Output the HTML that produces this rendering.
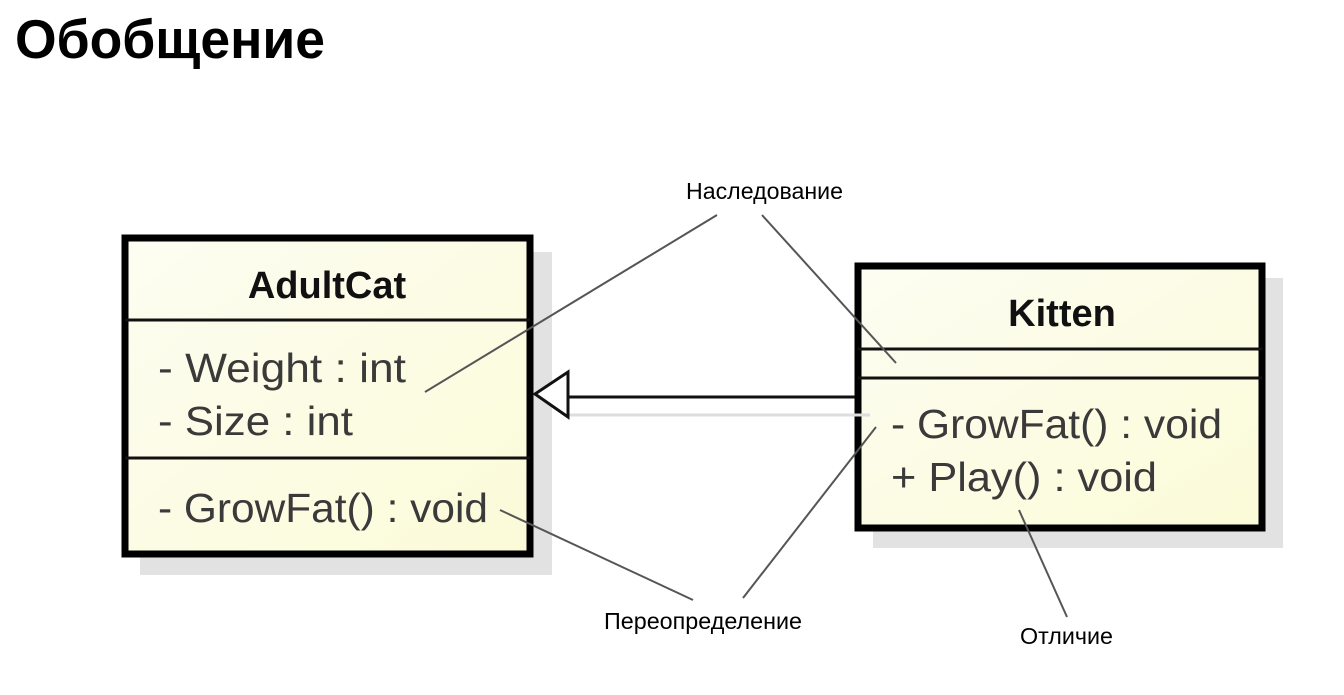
<!DOCTYPE html>
<html><head><meta charset="utf-8"><style>
html,body{margin:0;padding:0;background:#fff;width:1344px;height:695px;overflow:hidden}
</style></head><body>
<svg width="1344" height="695" viewBox="0 0 1344 695" xmlns="http://www.w3.org/2000/svg">
<defs>
<linearGradient id="g" x1="0" y1="0" x2="1" y2="1">
<stop offset="0" stop-color="#fdfdf2"/><stop offset="1" stop-color="#fbfbd8"/>
</linearGradient>
</defs>
<text x="15" y="58" font-family="Liberation Sans, DejaVu Sans, sans-serif" font-weight="bold" font-size="55" textLength="310" lengthAdjust="spacingAndGlyphs" fill="#000">Обобщение</text>

<!-- AdultCat -->
<rect x="140" y="252" width="412" height="323" fill="#e2e2e2"/>
<rect x="125" y="238" width="405" height="316" fill="url(#g)" stroke="#000" stroke-width="7"/>
<line x1="125" y1="320" x2="530" y2="320" stroke="#111" stroke-width="3"/>
<line x1="125" y1="458" x2="530" y2="458" stroke="#111" stroke-width="3"/>
<g font-family="Liberation Sans, Arial, sans-serif" fill="#3a3a3a" font-size="41">
<text x="327" y="298" text-anchor="middle" font-weight="bold" font-size="38" fill="#111">AdultCat</text>
<text x="158" y="382" textLength="248" lengthAdjust="spacingAndGlyphs">- Weight : int</text>
<text x="158" y="435" textLength="195" lengthAdjust="spacingAndGlyphs">- Size : int</text>
<text x="158" y="522" textLength="330" lengthAdjust="spacingAndGlyphs">- GrowFat() : void</text>
</g>

<!-- Kitten -->
<rect x="873" y="278" width="410" height="270" fill="#e2e2e2"/>
<rect x="858" y="266" width="404" height="262" fill="url(#g)" stroke="#000" stroke-width="7"/>
<line x1="858" y1="349" x2="1262" y2="349" stroke="#111" stroke-width="3"/>
<line x1="858" y1="378" x2="1262" y2="378" stroke="#111" stroke-width="3"/>
<g font-family="Liberation Sans, Arial, sans-serif" fill="#3a3a3a" font-size="41">
<text x="1062" y="326" text-anchor="middle" font-weight="bold" font-size="38" fill="#111">Kitten</text>
<text x="891" y="438" textLength="331" lengthAdjust="spacingAndGlyphs">- GrowFat() : void</text>
<text x="891" y="491" textLength="266" lengthAdjust="spacingAndGlyphs">+ Play() : void</text>
</g>

<!-- generalization -->
<line x1="568" y1="415" x2="870" y2="415" stroke="#ddd" stroke-width="3"/>
<line x1="568" y1="397" x2="855" y2="397" stroke="#111" stroke-width="3"/>
<polygon points="535,394 568,372 568,417" fill="#fff" stroke="#111" stroke-width="3"/>

<!-- annotations -->
<g stroke="#555" stroke-width="2">
<line x1="717" y1="215" x2="425" y2="392"/>
<line x1="762" y1="215" x2="896" y2="363"/>
<line x1="693" y1="600" x2="500" y2="510"/>
<line x1="743" y1="598" x2="876" y2="427"/>
<line x1="1019" y1="510" x2="1067" y2="617"/>
</g>
<g font-family="Liberation Sans, DejaVu Sans, sans-serif" font-size="23" fill="#000">
<text x="686" y="199" textLength="157" lengthAdjust="spacingAndGlyphs">Наследование</text>
<text x="604" y="629" textLength="198" lengthAdjust="spacingAndGlyphs">Переопределение</text>
<text x="1020" y="644" textLength="93" lengthAdjust="spacingAndGlyphs">Отличие</text>
</g>
</svg>
</body></html>
